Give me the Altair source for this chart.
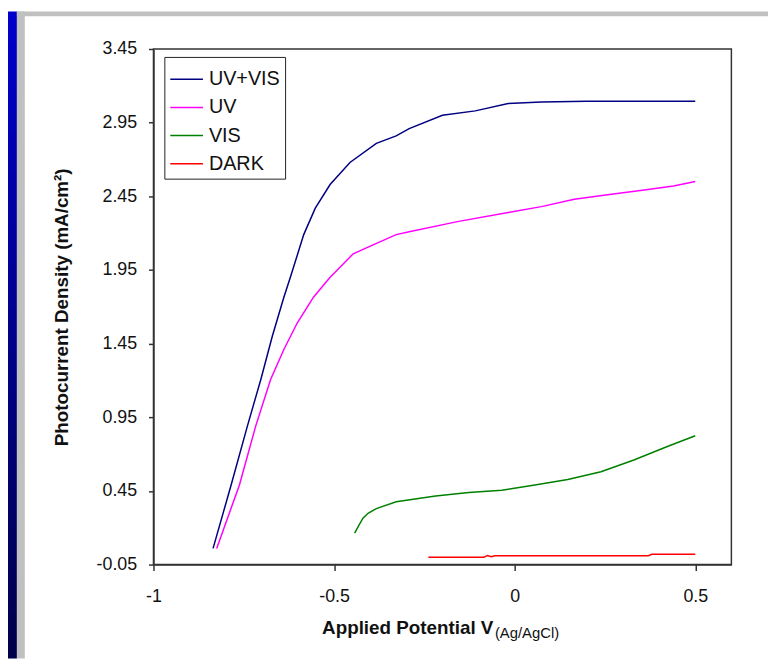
import altair as alt
import pandas as pd

# ---- data ----
uvvis_x = [-0.835, -0.785, -0.740, -0.703, -0.671, -0.639, -0.621, -0.584, -0.552, -0.511,
           -0.456, -0.383, -0.328, -0.292, -0.200, -0.109, -0.018, 0.074, 0.200, 0.350, 0.500]
uvvis_y = [0.06, 0.49, 0.89, 1.205, 1.50, 1.765, 1.90, 2.19, 2.37, 2.53,
           2.68, 2.81, 2.86, 2.91, 3.00, 3.03, 3.08, 3.09, 3.095, 3.095, 3.095]

uv_x = [-0.825, -0.762, -0.717, -0.676, -0.639, -0.602, -0.557, -0.511, -0.493, -0.447,
        -0.392, -0.328, -0.292, -0.155, -0.018, 0.074, 0.165, 0.257, 0.348, 0.440, 0.500]
uv_y = [0.06, 0.49, 0.89, 1.205, 1.41, 1.59, 1.765, 1.90, 1.945, 2.06,
        2.12, 2.19, 2.21, 2.28, 2.34, 2.38, 2.43, 2.46, 2.49, 2.52, 2.55]

vis_x = [-0.443, -0.433, -0.420, -0.406, -0.383, -0.328, -0.219, -0.127, -0.036, 0.056,
         0.147, 0.239, 0.330, 0.421, 0.500]
vis_y = [0.164, 0.21, 0.265, 0.298, 0.33, 0.377, 0.415, 0.44, 0.455, 0.49,
         0.527, 0.58, 0.66, 0.75, 0.825]

dark_x = [-0.239, -0.085, -0.075, -0.065, -0.055, 0.370, 0.380, 0.500]
dark_y = [0.0, 0.0, 0.012, 0.004, 0.01, 0.01, 0.02, 0.02]

series_names = ["UV+VIS", "UV", "VIS", "DARK"]
series_colors = ["#000080", "#FF00FF", "#008000", "#FF0000"]

x_ticks = [-1, -0.5, 0, 0.5]
y_ticks = [-0.05, 0.45, 0.95, 1.45, 1.95, 2.45, 2.95, 3.45]

rows = []
for name, xs, ys in zip(series_names,
                        [uvvis_x, uv_x, vis_x, dark_x],
                        [uvvis_y, uv_y, vis_y, dark_y]):
    for i, (a, b) in enumerate(zip(xs, ys)):
        rows.append({"series": name, "V": a, "J": b, "order": i})
df = pd.DataFrame(rows)

FONT = "Liberation Sans"
W, H = 584, 521
PAD = {"left": 147, "top": 38, "right": 37, "bottom": 95}

lines = alt.Chart(df).mark_line(strokeWidth=1.5, clip=True).encode(
    x=alt.X("V:Q",
            scale=alt.Scale(domain=[-1, 0.6], nice=False, zero=False),
            axis=alt.Axis(values=x_ticks, format="~g", labelFlush=False,
                          title="Applied Potential V",
                          labelExpr="replace(datum.label, '\u2212', '-')",
                          titleAlign="right", titleX=343, titleY=70,
                          titleBaseline="alphabetic")),
    y=alt.Y("J:Q",
            scale=alt.Scale(domain=[-0.05, 3.45], nice=False, zero=False),
            axis=alt.Axis(values=y_ticks, format=".2f", labelFlush=False,
                          title="Photocurrent Density (mA/cm\u00b2)",
                          labelExpr="replace(datum.label, '\u2212', '-')",
                          titleAngle=270, titleX=-93, titleY=H / 2,
                          titleAlign="center", titleBaseline="middle")),
    color=alt.Color("series:N",
                    scale=alt.Scale(domain=series_names, range=series_colors),
                    sort=series_names,
                    legend=alt.Legend(title=None, orient="none", legendX=11, legendY=8,
                                      symbolType="stroke", symbolSize=1089,
                                      symbolStrokeWidth=1.5, labelFontSize=20,
                                      labelFont=FONT, labelColor="#111111",
                                      labelOffset=5, rowPadding=0.5, padding=5,
                                      strokeColor="#222222", fillColor="white")),
    order="order:Q",
)

sub = alt.Chart(pd.DataFrame({"t": ["(Ag/AgCl)"]})).mark_text(
    align="left", baseline="alphabetic", fontSize=15, font=FONT, color="#111111"
).encode(x=alt.value(345), y=alt.value(595), text="t:N")

deco = pd.DataFrame({"k": [0]})
grad = alt.LinearGradient(gradient="linear",
                          stops=[alt.GradientStop(color="#0000CC", offset=0),
                                 alt.GradientStop(color="#00004A", offset=1)],
                          x1=0, x2=0, y1=0, y2=1)
blue_left = alt.Chart(deco).mark_rect(color=grad, clip=False).encode(
    x=alt.value(-147), x2=alt.value(-138), y=alt.value(-38), y2=alt.value(H + 95))
gray_left = alt.Chart(deco).mark_rect(color="#C0C0C0", clip=False).encode(
    x=alt.value(-138), x2=alt.value(-130), y=alt.value(-38), y2=alt.value(H + 95))
gray_top = alt.Chart(deco).mark_rect(color="#C0C0C0", clip=False).encode(
    x=alt.value(-138), x2=alt.value(W + 37), y=alt.value(-38), y2=alt.value(-33))

chart = alt.layer(blue_left, gray_left, gray_top, lines, sub).properties(
    width=W, height=H, padding=PAD, autosize="none", background="white"
).configure_axis(
    grid=False, domainColor="#333333", domainWidth=1.5, tickColor="#333333",
    tickWidth=1.5, tickSize=6, labelFont=FONT, labelFontSize=18, labelColor="#111111",
    titleFont=FONT, titleFontSize=19, titleFontWeight="bold", titleColor="#111111",
).configure_axisX(labelPadding=17).configure_axisY(labelPadding=12, tickSize=5).configure_view(
    stroke="#333333", strokeWidth=1.5
)

chart.save("out.html", embed_options={"renderer": "svg", "actions": False})
